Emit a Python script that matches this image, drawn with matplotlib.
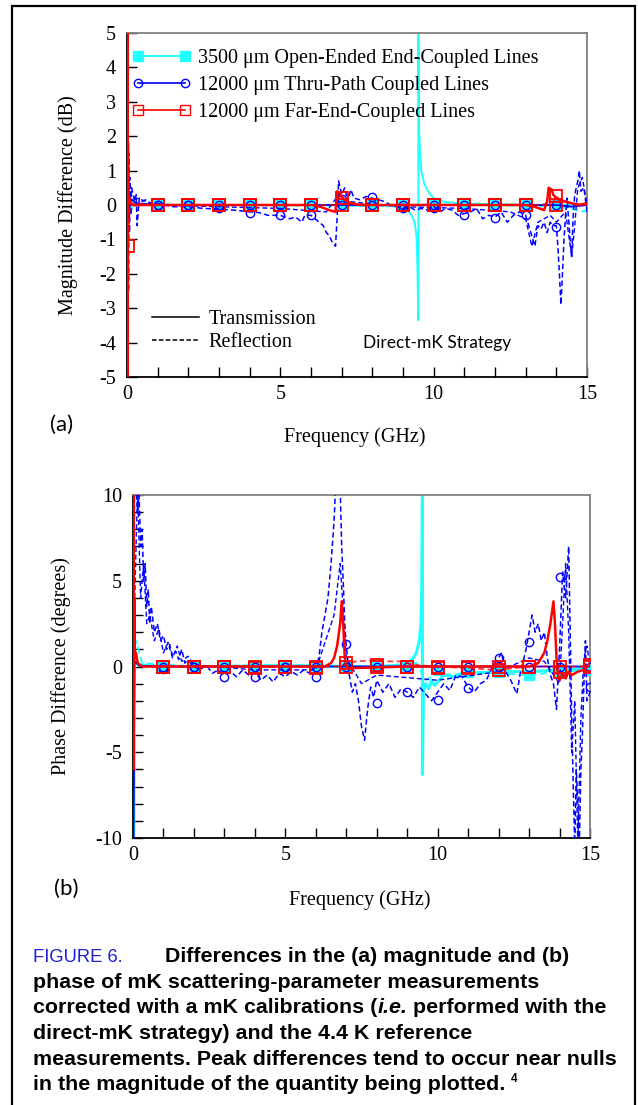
import matplotlib
matplotlib.use("Agg")
import matplotlib.pyplot as plt
from matplotlib.lines import Line2D
from matplotlib.patches import Rectangle

plt.rcParams["axes.unicode_minus"] = False

SERIF = "Liberation Serif"
SANS = "Lato"
CYAN = "#22FFFF"
BLUE = "#0000FF"
RED = "#FF0000"

series_names = ["3500 \u03bcm Open-Ended End-Coupled Lines",
                "12000 \u03bcm Thru-Path Coupled Lines",
                "12000 \u03bcm Far-End-Coupled Lines"]

# ---------------- (a) magnitude difference (dB) ----------------
a_cyan_t_f = [0, 0.02, 0.04, 0.06, 0.1, 0.2, 1, 3, 5, 7, 8, 8.6, 9.0, 9.15, 9.28, 9.38, 9.44, 9.47,
              9.5, 9.5, 9.52, 9.55, 9.6, 9.7, 9.85, 10.0, 10.3, 10.7, 11.5, 13, 15]
a_cyan_t = [0, -0.7, 0.3, -0.2, 0.05, 0, 0, 0, 0, 0, -0.02, -0.03, -0.08, -0.15, -0.3, -0.5, -0.9, -1.8,
            -3.35, 5.5, 2.4, 1.6, 1.0, 0.6, 0.35, 0.2, 0.1, 0.06, 0.03, 0.01, 0]
a_cyan_r_f = [0, 0.05, 0.1, 0.2, 2, 5, 8, 10, 12, 14, 14.5, 14.8, 15]
a_cyan_r = [0, 0.6, -0.3, 0.05, 0, -0.02, -0.03, 0.02, 0, -0.05, -0.1, -0.2, -0.15]

a_blue_t_f = [0, 0.03, 0.06, 0.1, 0.3, 1, 3, 5, 7, 9, 11, 13, 14, 14.5, 15]
a_blue_t = [0, 1.2, -0.5, 0.2, 0.05, 0, 0, 0, 0, 0, 0, 0, 0, -0.05, 0]
a_blue_r_f = [0.0, 0.02, 0.03, 0.04, 0.05, 0.06, 0.08, 0.1, 0.12, 0.15, 0.2, 0.25, 0.3, 0.33, 0.4, 0.5,
              0.6, 0.8, 1.0, 1.2, 1.5, 2.0, 2.5, 3.0, 3.5, 4.0, 4.3, 4.6, 5.0, 5.3, 5.5, 5.7, 5.8, 6.0,
              6.2, 6.4, 6.5, 6.6, 6.7, 6.8, 6.85, 6.9, 7.0, 7.1, 7.2, 7.3, 7.4, 7.6, 7.8, 8.0, 8.2, 8.4,
              8.6, 8.8, 9.0, 9.2, 9.4, 9.6, 9.8, 10.0, 10.2, 10.4, 10.6, 10.8, 11.0, 11.2, 11.4, 11.6,
              11.8, 12.0, 12.2, 12.4, 12.6, 12.8, 13.0, 13.1, 13.2, 13.3, 13.4, 13.5, 13.6, 13.7, 13.8,
              13.9, 14.0, 14.05, 14.1, 14.15, 14.2, 14.25, 14.3, 14.35, 14.4, 14.45, 14.5, 14.55, 14.6,
              14.7, 14.75, 14.8, 14.9, 15.0]
a_blue_r = [0, 4.4, -4.3, 2.5, -2.5, 1.5, -0.8, 0.8, -0.3, 0.5, 0.3, 0.1, 0.3, -0.6, 0.2, 0.1,
            0.15, 0.0, 0.05, 0.0, -0.05, -0.05, -0.1, -0.12, -0.15, -0.2, -0.22, -0.3, -0.3, -0.4, -0.35,
            -0.5, -0.3, -0.3, -0.45, -0.6, -0.8, -0.9, -1.1, -1.2, -0.4, 0.7, 0.3, 0.5, 0.1, 0.45, 0.2,
            0.15, 0.25, 0.2, 0.15, 0.1, 0.0, -0.05, -0.1, -0.05, -0.15, -0.1, -0.15, -0.05, -0.2, -0.1,
            -0.15, -0.3, -0.25, -0.2, -0.1, -0.4, -0.3, -0.35, -0.2, -0.5, -0.3, -0.2, -0.3, -0.6, -0.9,
            -1.2, -0.6, -0.7, -0.5, -0.8, -0.5, -0.6, -0.6, -1.2, -2.0, -2.9, -2.0, -1.0, -0.3, 0.2,
            -0.4, -1.0, -1.5, -0.3, 0.3, 0.7, 1.0, 0.4, 0.5, -0.2]
a_blue_r2_f = [0, 0.1, 0.3, 1, 3, 5, 6.5, 6.9, 7.2, 9, 11, 12.5, 13.0, 13.2, 13.4, 13.8, 14.0, 14.3,
               14.5, 14.6, 14.7, 14.85, 15]
a_blue_r2 = [0, 0.3, 0.2, 0, -0.05, -0.1, -0.2, 0.3, 0.1, -0.05, -0.1, -0.2, -0.4, -1.2, -0.5, -0.3,
             -0.5, -0.2, -1.5, -0.6, 0.5, 0.8, 0.0]

a_red_t_f = [0, 0.01, 0.02, 0.03, 0.05, 0.1, 0.2, 1, 3, 5, 6.0, 6.3, 6.6, 6.8, 6.85, 6.95, 7.1, 7.3, 7.6,
             9, 11, 13.0, 13.3, 13.6, 13.7, 13.75, 13.85, 13.9, 14.0, 14.1, 14.3, 14.5, 14.7, 15]
a_red_t = [0, 5.5, -5.5, 1.8, 0.3, 0.1, 0, 0, 0, 0, 0, -0.05, -0.15, -0.2, 0.4, 0.3, 0.15, 0.05, 0,
           0, 0, 0, -0.05, -0.15, 0.1, 0.5, 0.45, 0.3, 0.2, 0.15, 0.1, 0.05, 0.0, 0.05]
a_red_r_f = [0, 0.03, 0.1, 1, 5, 6.8, 6.9, 7.0, 7.3, 8, 12, 13.5, 13.9, 14.0, 14.2, 14.5, 15]
a_red_r = [0, -1.2, 0.05, 0, 0, 0, 0.25, 0.2, 0.05, 0, 0, 0, 0.1, 0.25, 0.1, 0.05, 0]

mk_f = [1, 2, 3, 4, 5, 6, 7, 8, 9, 10, 11, 12, 13, 14]
a_cyan_mk = [0, 0, 0, 0, 0, 0, 0, 0, 0, 0, 0, 0, 0, 0]
a_blue_mk_t = [0, 0, 0, 0, 0, 0, 0, 0, 0, 0, 0, 0, 0, 0]
a_blue_mk_r = [0, 0, -0.1, -0.23, -0.3, -0.3, 0.17, 0.23, -0.1, -0.1, -0.28, -0.38, -0.3, -0.64]
a_red_mk_t = [0, 0, 0, 0, 0, 0, 0, 0, 0, 0, 0, 0, 0, 0]
a_red_mk_r = [0, 0, 0, 0, 0, 0, 0.2, 0, 0, 0, 0, 0, 0, 0.25]

# ---------------- (b) phase difference (degrees) ----------------
b_cyan_t_f = [0, 0.01, 0.02, 0.05, 0.1, 0.2, 1, 3, 5, 7, 8, 9.0, 9.1, 9.2, 9.3, 9.4, 9.45, 9.48,
              9.5, 9.5, 9.53, 9.6, 9.7, 9.8, 9.9, 10.0, 10.2, 10.5, 11, 12, 13, 14, 15]
b_cyan_t = [0, 8, -10.5, 1.0, 0.2, 0.1, 0, 0, 0.05, 0, 0, 0.1, 0.3, 0.5, 0.8, 1.5, 2.5, 4.5,
            10.5, -6.3, -1.5, -1.0, -1.3, -0.8, -1.1, -0.9, -0.5, -0.6, -0.4, -0.3, -0.3, -0.2, -0.1]
b_cyan_r_f = [0, 0.1, 0.3, 2, 5, 8, 9.3, 9.6, 10, 10.5, 11, 12, 13, 14, 15]
b_cyan_r = [0, 1.5, 0.2, 0, 0.1, 0, 0.2, -0.8, -0.4, -0.5, -0.3, -0.4, -0.5, -0.3, -0.2]

b_blue_t_f = [0, 0.005, 0.01, 0.05, 0.2, 1, 5, 10, 14, 15]
b_blue_t = [0, 10.5, -10.5, 0.3, 0.05, 0, 0, 0, 0, 0]
b_blue_r_f = [0.0, 0.05, 0.1, 0.15, 0.2, 0.25, 0.3, 0.35, 0.4, 0.45, 0.5, 0.55, 0.6, 0.7, 0.8, 0.9,
              1.0, 1.1, 1.2, 1.3, 1.4, 1.5, 1.6, 1.7, 1.8, 2.0, 2.2, 2.4, 2.6, 2.8, 3.0, 3.2, 3.4,
              3.6, 3.8, 4.0, 4.2, 4.4, 4.6, 4.8, 5.0, 5.2, 5.4, 5.6, 5.8, 6.0, 6.1, 6.2, 6.3, 6.4,
              6.5, 6.6, 6.65, 6.8, 6.85, 6.9, 6.95, 7.0, 7.1, 7.2, 7.3, 7.4, 7.5, 7.6, 7.7, 7.8, 7.9,
              8.0, 8.2, 8.4, 8.6, 8.8, 9.0, 9.2, 9.4, 9.6, 9.8, 10.0, 10.2, 10.4, 10.6, 10.8, 11.0,
              11.2, 11.4, 11.6, 11.8, 12.0, 12.1, 12.2, 12.4, 12.6, 12.7, 12.9, 13.0, 13.1, 13.2,
              13.3, 13.4, 13.5, 13.6, 13.7, 13.8, 13.9, 14.0, 14.1, 14.2, 14.3, 14.35, 14.4, 14.45,
              14.5, 14.55, 14.6, 14.65, 14.7, 14.75, 14.8, 14.85, 14.9, 15.0]
b_blue_r = [-10.5, 10.5, 10.5, 9, 10, 7, 8, 5, 6, 3.5, 4.5, 2.5, 3.5, 2, 2.5, 1.5,
            1.8, 1.0, 1.3, 0.6, 0.9, 0.4, 1.0, 0.2, 0.4, 0.0, -0.2, 0.1, -0.4, -0.2, -0.5, -0.3, -0.6,
            -0.2, -0.5, -0.3, -0.8, -0.5, -0.9, -0.4, -0.6, -0.3, -0.5, -0.2, -0.4, 0.0, 0.5, 2.0, 3.0, 4.0,
            6.0, 8.5, 10.5, 10.5, 7, 5, 2.5, 1.2, -0.5, -1.5, -1.0, -2.0, -3.5, -4.3, -2.5, -1.2, -1.8,
            -0.8, -1.5, -1.0, -1.8, -1.3, -1.5, -1.8, -1.2, -1.6, -2.0, -1.5, -1.0, -1.4, -0.5, -0.6, -1.2,
            -1.5, -1.0, -0.8, 0.0, 0.5, 0.8, -0.2, -0.8, -1.6, -0.5, 1.0, 2.0, 3.0, 2.0,
            2.5, 1.5, 2.0, 0.5, -0.5, -1.0, -2.5, 1.0, 5.5, 4.0, 7.0, 2.0, -3.0, -7.0,
            -10.5, -6.0, -8.0, -10.5, -6.0, -4.0, -1.0, 1.5, -2.0, -1.5]
b_blue_r2_f = [0, 0.15, 0.25, 0.35, 0.45, 0.55, 0.7, 0.85, 1.0, 1.15, 1.3, 1.45, 1.6, 1.8, 2.0, 4, 6,
               6.6, 6.8, 7.0, 7.5, 8, 10, 12, 13, 13.5, 14.0, 14.2, 14.3, 14.4, 14.5, 14.6, 14.7, 14.8,
               14.9, 15]
b_blue_r2 = [0, 10.5, 4, 6, 2.5, 3, 1.5, 2.2, 0.8, 1.4, 0.5, 1.2, 0.3, 0.6, 0.1, -0.2, -0.2,
             3, 6, 0.5, -1.0, -0.5, -0.8, -0.3, 0.5, 0.3, -1.0, 6.0, 2.0, -5.0, -2.0, -10.5, -3.0, 0.5,
             1.2, 0.0]

b_red_t_f = [0, 0.01, 0.02, 0.04, 0.06, 0.1, 0.15, 0.3, 2, 4, 6.3, 6.5, 6.6, 6.7, 6.8, 6.85, 6.9, 6.95,
             7.0, 7.1, 9, 11, 13.0, 13.3, 13.5, 13.6, 13.7, 13.8, 13.85, 13.9, 13.95, 14.0, 14.1,
             14.2, 14.3, 14.4, 14.6, 14.8, 15]
b_red_t = [0, 10.5, -6, 4, 0.5, 0.8, 0.2, 0, 0, 0, 0, 0.2, 0.5, 1.2, 2.5, 3.8, 2.5, 0.5,
           0, -0.1, 0, 0, 0, 0.2, 0.8, 1.5, 2.5, 3.8, 2.5, 0.5, -0.5, -0.8, -0.4,
           -0.7, -0.3, -0.5, -0.3, -0.2, 0.2]
b_red_r_f = [0, 0.05, 0.2, 2, 5, 6.8, 7.0, 7.3, 7.8, 8.3, 8.8, 9.2, 10, 11, 12, 12.5, 13, 15]
b_red_r = [0, 1.0, 0, 0, 0, 0, 0.1, 0.3, 0.35, 0.3, 0.3, 0.1, 0, -0.1, -0.2, -0.1, 0, 0]

mk_f_b = [1, 2, 3, 4, 5, 6, 7, 8, 9, 10, 11, 12, 13, 14, 15]
b_cyan_mk = [0, 0, 0, 0, 0, 0, 0, 0, 0, -0.2, -0.3, -0.3, -0.5, -0.3, -0.2]
b_blue_mk_t = [0, 0, 0, 0, 0, 0, 0, 0, 0, 0, 0, 0, 0, 0, 0]
b_blue_mk_r = [-0.15, 0, -0.6, -0.6, 0, -0.6, 1.3, -2.1, -1.5, -1.95, -1.25, 0.5, 1.4, 5.2, -1.2]
b_red_mk_t = [0, 0, 0, 0, 0, 0, 0, 0, 0, 0, 0, 0, 0, 0, 0.1]
b_red_mk_r = [0, 0, 0, -0.1, 0, -0.1, 0.2, 0.1, 0, -0.1, -0.1, -0.2, 0, -0.3, 0]

caption_lines = [
    "phase of mK scattering-parameter measurements",
    None,
    "direct-mK strategy) and the 4.4 K reference",
    "measurements. Peak differences tend to occur near nulls",
    "in the magnitude of the quantity being plotted.",
]

W, H = 638, 1105
fig = plt.figure(figsize=(W / 100, H / 100), dpi=100)


def fx(px):
    return px / W


def fy(py):
    return 1 - py / H


def style_axes(ax, ymin, ymax, ymajor, yminor):
    ax.set_xlim(0, 15)
    ax.set_ylim(ymin, ymax)
    ax.set_xticks([0, 5, 10, 15])
    ax.set_xticks(range(0, 16), minor=True)
    ax.set_yticks(ymajor)
    ax.set_yticks(yminor, minor=True)
    ax.tick_params(which="both", direction="in", top=False, right=False,
                   labelsize=14.5, color="black")
    ax.tick_params(which="major", length=7, width=1)
    ax.tick_params(which="minor", length=7, width=1)
    ax.tick_params(axis="x", pad=6)
    ax.tick_params(axis="y", pad=8)
    for lab in ax.get_xticklabels() + ax.get_yticklabels():
        lab.set_fontfamily(SERIF)
    ax.spines["left"].set_color("black")
    ax.spines["bottom"].set_color("black")
    ax.spines["top"].set_color("#808080")
    ax.spines["right"].set_color("#808080")
    for s in ax.spines.values():
        s.set_linewidth(1.3)


def draw_panel(ax, d, mkf):
    dash = (0, (3.5, 2))
    ax.plot(d["cyan_r_f"], d["cyan_r"], color=CYAN, lw=1.4, ls=dash, zorder=2)
    ax.plot(d["cyan_t_f"], d["cyan_t"], color=CYAN, lw=d["cyan_lw"], zorder=2)
    ax.plot(mkf, d["cyan_mk"], ls="none", marker="s", ms=7, mfc=CYAN, mec=CYAN, zorder=3)
    ax.plot(d["blue_r_f"], d["blue_r"], color=BLUE, lw=1.1, ls=dash, zorder=3)
    ax.plot(d["blue_r2_f"], d["blue_r2"], color=BLUE, lw=1.0, ls=dash, zorder=3)
    ax.plot(d["blue_t_f"], d["blue_t"], color=BLUE, lw=1.3, zorder=3)
    ax.plot(mkf, d["blue_mk_t"], ls="none", marker="o", ms=6, mfc="none", mec=BLUE, mew=1, zorder=4)
    ax.plot(mkf, d["blue_mk_r"], ls="none", marker="o", ms=6, mfc="none", mec=BLUE, mew=1, zorder=4)
    ax.plot(d["red_r_f"], d["red_r"], color=RED, lw=1.2, ls=dash, alpha=0.8, zorder=4)
    ax.plot(d["red_t_f"], d["red_t"], color=RED, lw=1.8, zorder=5)
    ax.plot(d["red_mk_f"], d["red_mk_r"], ls="none", marker="s", ms=8, mfc="none", mec=RED, mew=1.3, zorder=5)
    ax.plot(mkf, d["red_mk_t"], ls="none", marker="s", ms=8, mfc="none", mec=RED, mew=1.3, zorder=5)


# panel (a)
ax1 = fig.add_axes([fx(127), fy(377), fx(587) - fx(127), fy(33) - fy(377)])
style_axes(ax1, -5, 5, range(-5, 6), range(-5, 6))
draw_panel(ax1, dict(cyan_t_f=a_cyan_t_f, cyan_t=a_cyan_t, cyan_r_f=a_cyan_r_f, cyan_r=a_cyan_r,
                     cyan_lw=1.4, cyan_mk=a_cyan_mk,
                     blue_t_f=a_blue_t_f, blue_t=a_blue_t, blue_r_f=a_blue_r_f, blue_r=a_blue_r,
                     blue_r2_f=a_blue_r2_f, blue_r2=a_blue_r2,
                     blue_mk_t=a_blue_mk_t, blue_mk_r=a_blue_mk_r,
                     red_t_f=a_red_t_f, red_t=a_red_t, red_r_f=a_red_r_f, red_r=a_red_r,
                     red_mk_f=[0.03] + mk_f, red_mk_r=[-1.2] + a_red_mk_r, red_mk_t=a_red_mk_t), mk_f)
ax1.set_ylabel("Magnitude Difference (dB)", fontsize=14.5, fontfamily=SERIF)
ax1.yaxis.set_label_coords(-0.106, 0.5)
ax1.set_xlabel("Frequency (GHz)", fontsize=14.5, fontfamily=SERIF)
ax1.xaxis.set_label_coords(0.496, -0.145)

handles = [Line2D([], [], color=CYAN, lw=1.4, marker="s", ms=7, mfc=CYAN, mec=CYAN),
           Line2D([], [], color=BLUE, lw=1.2, marker="o", ms=6, mfc="none", mec=BLUE),
           Line2D([], [], color=RED, lw=1.2, marker="s", ms=7, mfc="none", mec=RED)]
leg1 = ax1.legend(handles, series_names, loc="upper left", bbox_to_anchor=(0.011, 0.955),
                  frameon=False, numpoints=2, handlelength=2.95, handletextpad=0.3,
                  labelspacing=0.4, borderaxespad=0, borderpad=0,
                  prop={"family": SERIF, "size": 14.5})
ax1.add_artist(leg1)
style_handles = [Line2D([], [], color="black", lw=1.1),
                 Line2D([], [], color="black", lw=1.1, ls=(0, (3, 1.5)))]
ax1.legend(style_handles, ["Transmission", "Reflection"], loc="upper left",
           bbox_to_anchor=(0.055, 0.195), frameon=False, handlelength=2.3, handletextpad=0.5,
           labelspacing=0.2, borderaxespad=0, borderpad=0, prop={"family": SERIF, "size": 14.5})
ax1.text(0.674, 0.10, "Direct-mK Strategy", transform=ax1.transAxes, ha="center", va="center",
         fontsize=12.5, fontfamily=SANS)

# panel (b)
ax2 = fig.add_axes([fx(133), fy(838), fx(590) - fx(133), fy(495) - fy(838)])
style_axes(ax2, -10, 10, [-10, -5, 0, 5, 10], range(-10, 11))
draw_panel(ax2, dict(cyan_t_f=b_cyan_t_f, cyan_t=b_cyan_t, cyan_r_f=b_cyan_r_f, cyan_r=b_cyan_r,
                     cyan_lw=2.2, cyan_mk=b_cyan_mk,
                     blue_t_f=b_blue_t_f, blue_t=b_blue_t, blue_r_f=b_blue_r_f, blue_r=b_blue_r,
                     blue_r2_f=b_blue_r2_f, blue_r2=b_blue_r2,
                     blue_mk_t=b_blue_mk_t, blue_mk_r=b_blue_mk_r,
                     red_t_f=b_red_t_f, red_t=b_red_t, red_r_f=b_red_r_f, red_r=b_red_r,
                     red_mk_f=mk_f_b, red_mk_r=b_red_mk_r, red_mk_t=b_red_mk_t), mk_f_b)
ax2.set_ylabel("Phase Difference (degrees)", fontsize=14.5, fontfamily=SERIF)
ax2.yaxis.set_label_coords(-0.136, 0.5)
ax2.set_xlabel("Frequency (GHz)", fontsize=14.5, fontfamily=SERIF)
ax2.xaxis.set_label_coords(0.497, -0.152)

fig.text(fx(62), fy(425), "(a)", fontsize=16, fontfamily=SANS, ha="center", va="center")
fig.text(fx(66), fy(889), "(b)", fontsize=16, fontfamily=SANS, ha="center", va="center")

# outer frame
fig.add_artist(Rectangle((fx(12), -0.01), fx(635) - fx(12), fy(6) + 0.01, transform=fig.transFigure,
                         fill=False, ec="black", lw=1.6))

# caption
fig.canvas.draw()
renderer = fig.canvas.get_renderer()


def put_runs(x_px, y_px, runs):
    x = x_px
    for txt, kw in runs:
        t = fig.text(fx(x), fy(y_px), txt, va="baseline", ha="left", **kw)
        bb = t.get_window_extent(renderer)
        x += bb.width
    return x


cap = dict(fontsize=15.4, fontfamily="Liberation Sans", fontweight="bold", color="black")
line_h = 25.7
base0 = 962
put_runs(33, base0, [("FIGURE 6.", dict(fontsize=13.2, fontfamily="Liberation Sans", color="#1F1FD8"))])
put_runs(165, base0, [("Differences in the (a) magnitude and (b)", cap)])
put_runs(33, base0 + line_h, [(caption_lines[0], cap)])
put_runs(33, base0 + 2 * line_h, [("corrected with a mK calibrations (", cap),
                                  ("i.e.", dict(cap, fontstyle="italic")),
                                  (" performed with the", cap)])
put_runs(33, base0 + 3 * line_h, [(caption_lines[2], cap)])
put_runs(33, base0 + 4 * line_h, [(caption_lines[3], cap)])
end_x = put_runs(33, base0 + 5 * line_h, [(caption_lines[4] + " ", cap)])
fig.text(fx(end_x), fy(base0 + 5 * line_h - 8), "4", fontsize=8.5,
         fontfamily="Liberation Sans", fontweight="bold", va="baseline")

fig.savefig("out.png", dpi=100)
